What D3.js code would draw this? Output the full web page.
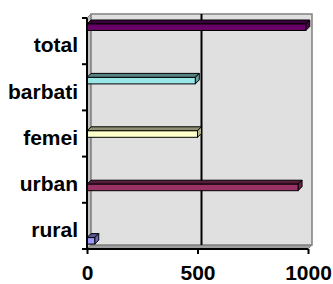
<!DOCTYPE html>
<html>
<head>
<meta charset="utf-8">
<script src="https://cdn.jsdelivr.net/npm/d3@7"></script>
<style>
  body { margin: 0; background: #fff; }
  svg text { font-family: "Liberation Sans", Arial, sans-serif; font-weight: bold; }
</style>
</head>
<body>
<figure id="bar" style="margin:0"></figure>
<script>
// data
const categories = ["rural", "urban", "femei", "barbati", "total"];
const values = [35, 955, 500, 490, 990];
const barColors = ["#9999FF", "#993366", "#FFFFCC", "#99E6E6", "#660066"];
const xTicks = [0, 500, 1000];

const width = 333, height = 284;
const plotLeft = 87, plotRight = 308, plotTop = 18, plotBottom = 249;
const dx = 4, dy = 4; // depth of the 3d box
const fontSize = 21;

const svg = d3.select("figure#bar")
  .append("svg")
  .attr("width", width)
  .attr("height", height);

const x = d3.scaleLinear().domain([0, 1000]).range([plotLeft, plotRight]);

// total on top, rural at the bottom
const y = d3.scaleBand()
  .domain(categories.slice().reverse())
  .range([plotTop, plotBottom]);

// each category is its own series inside the cluster
const inner = d3.scaleBand()
  .domain(categories.slice().reverse())
  .range([6, 42]);

// side wall
svg.append("polygon")
  .attr("points", [[plotLeft, plotTop], [plotLeft + dx, plotTop - dy], [plotLeft + dx, plotBottom - dy], [plotLeft, plotBottom]].join(" "))
  .attr("fill", "#c0c0c0")
  .attr("stroke", "#808080");

// floor
svg.append("polygon")
  .attr("points", [[plotLeft, plotBottom], [plotLeft + dx, plotBottom - dy], [plotRight + dx, plotBottom - dy], [plotRight, plotBottom]].join(" "))
  .attr("fill", "#a0a0a0")
  .attr("stroke", "#808080");

// back wall
svg.append("rect")
  .attr("x", plotLeft + dx)
  .attr("y", plotTop - dy)
  .attr("width", plotRight - plotLeft)
  .attr("height", plotBottom - plotTop)
  .attr("fill", "#e0e0e0")
  .attr("stroke", "#808080")
  .attr("stroke-width", 1.5);

// gridlines on back wall
svg.selectAll("line.grid")
  .data(xTicks.filter(d => d > 0 && d < 1000))
  .enter()
  .append("line")
  .attr("class", "grid")
  .attr("x1", d => x(d) + dx)
  .attr("x2", d => x(d) + dx)
  .attr("y1", plotTop - dy)
  .attr("y2", plotBottom - dy)
  .attr("stroke", "#000")
  .attr("stroke-width", 2);

// bars with top and end faces
const bars = svg.selectAll("g.bar")
  .data(categories.map((c, i) => ({ cat: c, val: values[i], color: barColors[i] })))
  .enter()
  .append("g")
  .attr("class", "bar");

const bh = 6.5;
const by = d => y(d.cat) + inner(d.cat);

bars.append("polygon")
  .attr("points", d => [[x(0), by(d)], [x(0) + dx, by(d) - dy], [x(d.val) + dx, by(d) - dy], [x(d.val), by(d)]].join(" "))
  .attr("fill", d => d3.color(d.color).darker(1.6))
  .attr("stroke", "#000");

bars.append("polygon")
  .attr("points", d => [[x(d.val), by(d)], [x(d.val) + dx, by(d) - dy], [x(d.val) + dx, by(d) - dy + bh], [x(d.val), by(d) + bh]].join(" "))
  .attr("fill", d => d3.color(d.color).darker(1))
  .attr("stroke", "#000");

bars.append("rect")
  .attr("x", x(0))
  .attr("y", d => by(d))
  .attr("width", d => x(d.val) - x(0))
  .attr("height", bh)
  .attr("fill", d => d.color)
  .attr("stroke", "#000");

// value axis
const xAxis = svg.append("g")
  .attr("transform", "translate(0," + plotBottom + ")")
  .call(d3.axisBottom(x).tickValues(xTicks).tickFormat(d3.format("d")).tickSize(5).tickPadding(11));
xAxis.select(".domain").attr("stroke", "#000").attr("stroke-width", 2)
  .attr("d", "M" + plotLeft + ",0H" + plotRight);
xAxis.selectAll(".tick line").attr("stroke-width", 2);
xAxis.selectAll("text")
  .attr("font-size", fontSize)
  .attr("font-family", "Liberation Sans, Arial, sans-serif")
  .attr("font-weight", "bold")
  .attr("fill", "#000");

// category axis
const yAxis = svg.append("g")
  .attr("transform", "translate(" + plotLeft + ",0)")
  .call(d3.axisLeft(y).tickSize(0).tickPadding(9));
yAxis.select(".domain").attr("stroke", "#000").attr("stroke-width", 2)
  .attr("d", "M0," + plotTop + "V" + plotBottom);
yAxis.selectAll("text")
  .attr("font-size", fontSize)
  .attr("font-family", "Liberation Sans, Arial, sans-serif")
  .attr("font-weight", "bold")
  .attr("fill", "#000")
  .attr("dy", "0.54em");

// category boundary ticks
svg.selectAll("line.ctick")
  .data(d3.range(categories.length + 1))
  .enter()
  .append("line")
  .attr("class", "ctick")
  .attr("x1", plotLeft - 5)
  .attr("x2", plotLeft)
  .attr("y1", i => plotTop + i * y.step())
  .attr("y2", i => plotTop + i * y.step())
  .attr("stroke", "#000")
  .attr("stroke-width", 2);
</script>
</body>
</html>
